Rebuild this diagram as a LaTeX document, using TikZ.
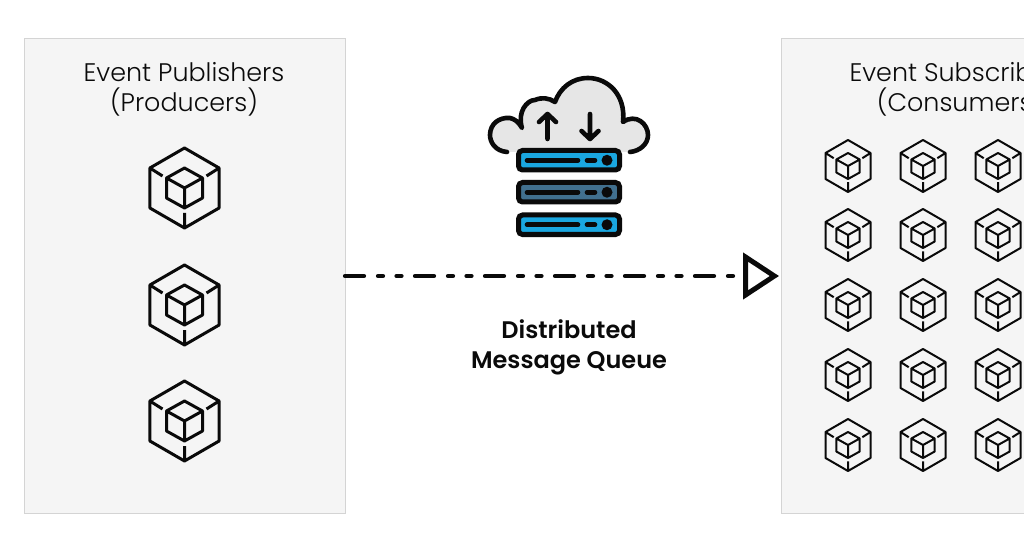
\documentclass[tikz,border=0pt]{standalone}
\usepackage{fontspec}
\setmainfont{Poppins}
\newfontfamily\titlefont{Poppins Light}
\newfontfamily\boldfont{Poppins SemiBold}
\usetikzlibrary{arrows.meta}
\definecolor{panelfill}{HTML}{F5F5F5}
\definecolor{panelline}{HTML}{D4D4D4}
\definecolor{cloudfill}{HTML}{E6E6E6}
\definecolor{srvblue}{HTML}{1AA7E0}
\definecolor{srvslate}{HTML}{41708F}
\definecolor{ink}{HTML}{0A0A0A}
\tikzset{
  panel/.style={draw=panelline,line width=1pt,fill=panelfill,minimum width=321pt,minimum height=474pt,inner sep=0pt,outer sep=0pt},
  paneltitle/.style={font=\titlefont\fontsize{25.4}{30}\selectfont,text=ink,align=center,inner sep=0pt},
  boldlabel/.style={font=\boldfont\fontsize{24}{30}\selectfont,text=ink,align=center,inner sep=0pt},
  flow/.style={draw=ink,line width=4.2pt,line cap=round,dash pattern=on 19pt off 14pt on 5pt off 13.5pt on 5pt off 13.5pt},
  srv/.style={draw=ink,line width=5pt,rounded corners=4pt},
  srvink/.style={draw=ink,line width=4.6pt,line cap=round},
  pics/cubeicon/.style={code={
    \draw[line width=#1,line join=round,draw=ink]
      (0,-40)--(34.6,-20)--(34.6,20)--(0,40)--(-34.6,20)--(-34.6,-20)--cycle
      (-34.6,-20)--(-22,-12) (34.6,-20)--(22,-12) (0,40)--(0,25)
      (0,-20)--(18,-10)--(18,10)--(0,20)--(-18,10)--(-18,-10)--cycle
      (-18,-10)--(0,0)--(18,-10) (0,0)--(0,20);
  }},
}
\begin{document}
\begin{tikzpicture}[x=1pt,y=-1pt]
\useasboundingbox (0,0) rectangle (1024,537);
\clip (0,0) rectangle (1024,537);
\node[panel] (pub) at (184.5,276) {};
\node[panel] (sub) at (941.5,276) {};
\node[paneltitle] (pubtitle) at (184,89) {Event Publishers\\(Producers)};
\node[paneltitle] (subtitle) at (960,89) {Event Subscribers\\(Consumers)};
\foreach \y in {188,305,421} \pic at (184.5,\y) {cubeicon=3pt};
\foreach \x in {848,923,998} \foreach \y in {166,235,305,375,445}
  \pic[scale=0.65] at (\x,\y) {cubeicon=2pt};
% cloud
\fill[cloudfill] (507,152) .. controls (495,151) and (490,142) .. (490,135)
  .. controls (490,124) and (499,117) .. (510,118)
  .. controls (514,119) and (518,121) .. (522,128)
  .. controls (517,112) and (527,100) .. (535,100)
  .. controls (542,97) and (549,98) .. (555,102)
  .. controls (560,88) and (572,78) .. (588,78)
  .. controls (608,78) and (626,95) .. (623,122)
  .. controls (636,113) and (648,124) .. (648,135)
  .. controls (648,144) and (640,151) .. (630,152) -- cycle;
\draw[ink,line width=4.6pt,line cap=round,line join=round,fill=none]
  (507,152) .. controls (495,151) and (490,142) .. (490,135)
  .. controls (490,124) and (499,117) .. (510,118)
  .. controls (514,119) and (518,121) .. (522,128)
  .. controls (517,112) and (527,100) .. (535,100)
  .. controls (542,97) and (549,98) .. (555,102)
  .. controls (560,88) and (572,78) .. (588,78)
  .. controls (608,78) and (626,95) .. (623,122)
  .. controls (636,113) and (648,124) .. (648,135)
  .. controls (648,144) and (640,151) .. (630,152);
\draw[srvink,line join=round] (547.5,139) -- (547.5,114) (539,122) -- (547.5,114) -- (556,122);
\draw[srvink,line join=round] (590,114) -- (590,139) (581.5,131) -- (590,139) -- (598.5,131);
% servers
\foreach \ya/\col in {150.5/srvblue,182.5/srvslate,215/srvblue}{
  \draw[srv,fill=\col] (518.5,\ya) rectangle (619.5,\ya+19.5);
  \draw[srvink] (527,\ya+9.75) -- (578,\ya+9.75) (587,\ya+9.75) -- (595,\ya+9.75);
  \fill[ink] (607,\ya+9.75) circle (5.5);
}
\draw[flow,shorten >=2pt,-{Triangle[open,length=36pt,width=46pt,line width=5pt,sep=0pt]}] (pub.east) -- (sub.west);
\node[boldlabel] (queue) at (569,347.5) {Distributed\\Message Queue};
\end{tikzpicture}
\end{document}
